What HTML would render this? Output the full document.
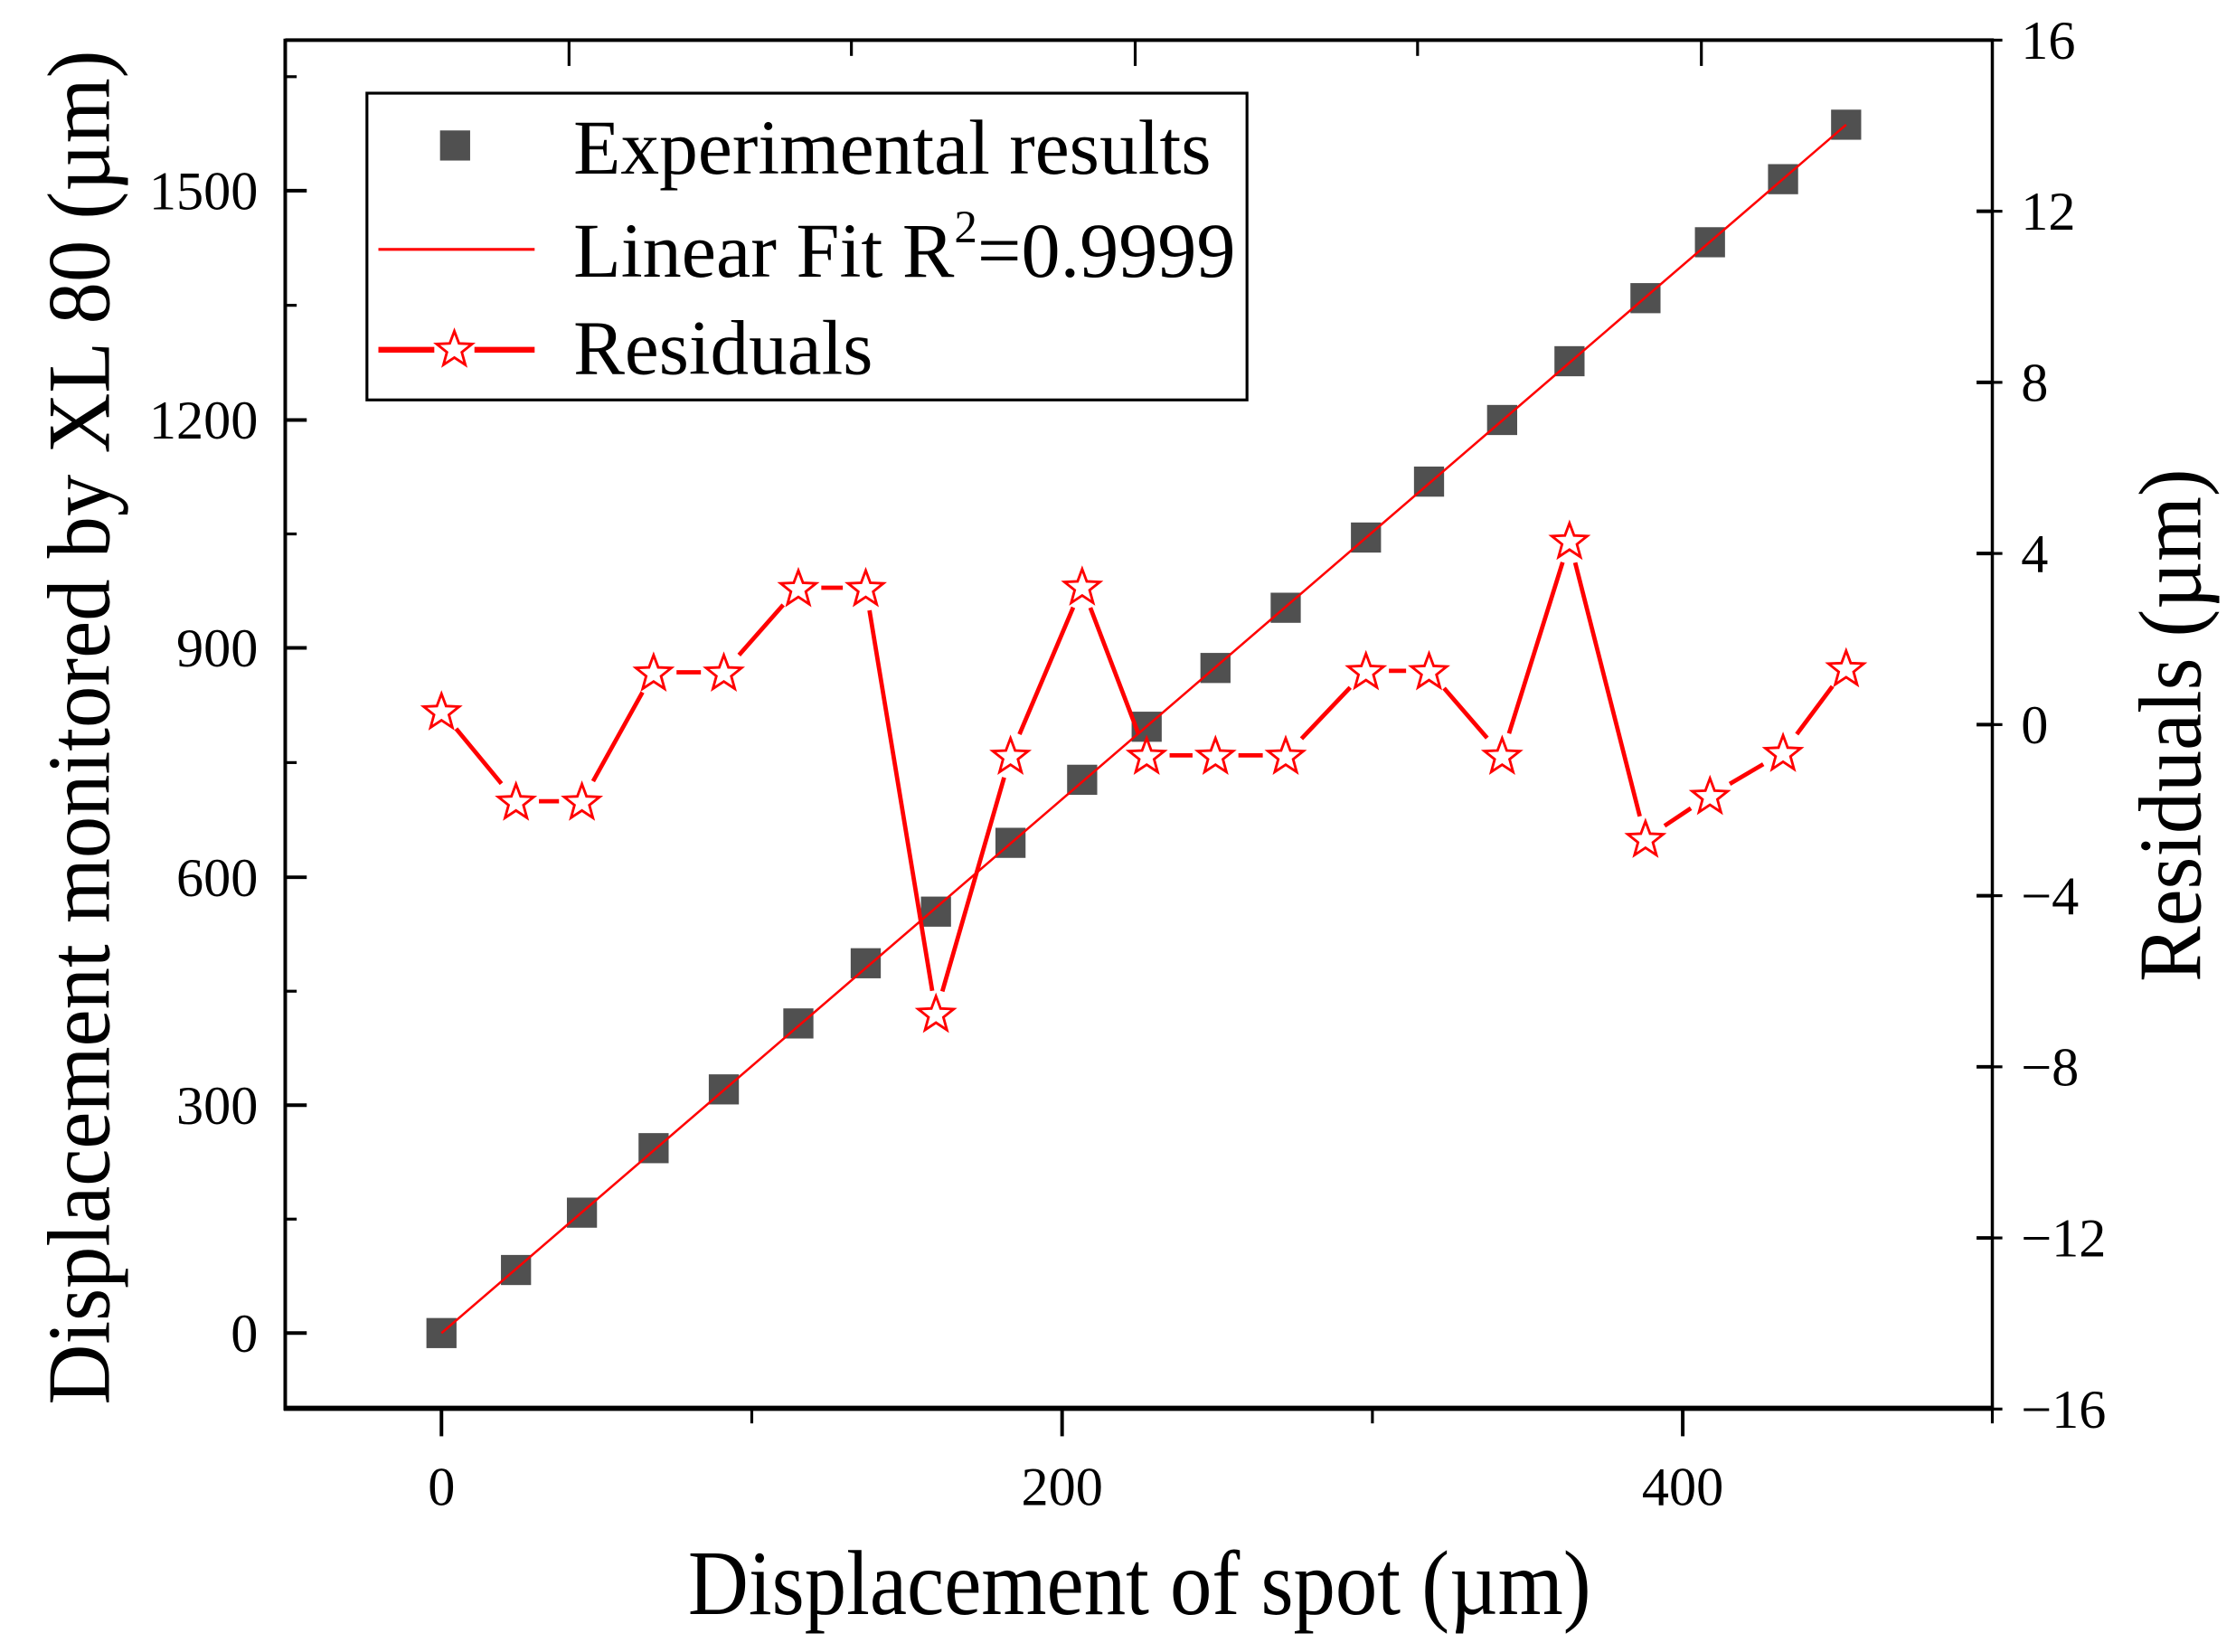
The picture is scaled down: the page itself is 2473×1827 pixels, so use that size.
<!DOCTYPE html>
<html><head><meta charset="utf-8"><style>
html,body{margin:0;padding:0;background:#fff;}
svg{display:block;}
text{font-family:"Liberation Serif",serif;fill:#000;}
</style></head><body>
<svg id="s" width="2473" height="1827" viewBox="0 0 1560 1152.5" preserveAspectRatio="none" xmlns="http://www.w3.org/2000/svg">
<g id="g"></g>
<line x1="199" y1="28" x2="1391" y2="28" stroke="#000" stroke-width="2.5"/>
<line x1="199" y1="27" x2="199" y2="984" stroke="#000" stroke-width="2.5"/>
<line x1="1390" y1="27" x2="1390" y2="984" stroke="#000" stroke-width="2.2"/>
<line x1="198" y1="982.5" x2="1391" y2="982.5" stroke="#000" stroke-width="3.6"/>
<rect x="256" y="65" width="614" height="214" fill="#fff" stroke="#000" stroke-width="2"/>
<rect x="307" y="91" width="21" height="21" fill="#505050"/>
<text x="400" y="121" font-size="54" textLength="445" lengthAdjust="spacingAndGlyphs">Experimental results</text>
<line x1="264" y1="174" x2="373" y2="174" stroke="#f00" stroke-width="2"/>
<text x="400" y="193" font-size="54" textLength="462" lengthAdjust="spacingAndGlyphs">Linear Fit R<tspan font-size="32" dy="-24">2</tspan><tspan dy="24">=0.9999</tspan></text>
<line x1="264" y1="244" x2="303" y2="244" stroke="#f00" stroke-width="4"/>
<line x1="331" y1="244" x2="373" y2="244" stroke="#f00" stroke-width="4"/>
<text x="400" y="261" font-size="54" textLength="209" lengthAdjust="spacingAndGlyphs">Residuals</text>
<text x="480" y="1126" font-size="64" textLength="630" lengthAdjust="spacingAndGlyphs">Displacement of spot (µm)</text>
<text transform="translate(76,980) rotate(-90)" font-size="62" textLength="945" lengthAdjust="spacingAndGlyphs">Displacement monitored by XL 80 (µm)</text>
<text transform="translate(1535,685) rotate(-90)" font-size="62" textLength="358" lengthAdjust="spacingAndGlyphs">Residuals (µm)</text>
</svg>
<script>
var NS="http://www.w3.org/2000/svg",g=document.getElementById('g'),s=document.getElementById('s');
function el(t,a,p){var e=document.createElementNS(NS,t);for(var k in a)e.setAttribute(k,a[k]);(p||s).appendChild(e);return e;}
var ly=[[0,930],[300,771],[600,612],[900,452],[1200,293],[1500,133]];
ly.forEach(function(d){el('line',{x1:199,y1:d[1],x2:214,y2:d[1],stroke:'#000','stroke-width':2.5});
var t=el('text',{x:180,y:d[1]+13,'font-size':38,'text-anchor':'end'});t.textContent=d[0];});
[850.5,691.5,532,372.5,213,53.5].forEach(function(y){el('line',{x1:199,y1:y,x2:207,y2:y,stroke:'#000','stroke-width':2});});
[[0,308],[200,741],[400,1174]].forEach(function(d){el('line',{x1:d[1],y1:983,x2:d[1],y2:1002,stroke:'#000','stroke-width':2.5});
var t=el('text',{x:d[1],y:1050,'font-size':38,'text-anchor':'middle'});t.textContent=d[0];});
[524.5,957.5,1390].forEach(function(x){el('line',{x1:x,y1:983,x2:x,y2:993,stroke:'#000','stroke-width':2});});
[[397,18],[594,11],[792,18],[989,11],[1187,18]].forEach(function(d){el('line',{x1:d[0],y1:28,x2:d[0],y2:28+d[1],stroke:'#000','stroke-width':2});});
for(var i=0;i<9;i++){var v=16-4*i,y=28+i*(955/8);
if(i>0&&i<8)el('line',{x1:1379,y1:y,x2:1390,y2:y,stroke:'#000','stroke-width':2.5});
el('line',{x1:1390,y1:y,x2:1397,y2:y,stroke:'#000','stroke-width':2});
var t=el('text',{x:1410,y:y+13,'font-size':38});t.textContent=(v<0?'\u2212':'')+Math.abs(v);}
var xs=[308,360,406,456,505,557,604,653,705,755,800,848,897,953,997,1048,1095,1148,1193,1244,1288];
var sq=[930,886,846,801,760,714,672,636,588,544,507,466,424,375,336,293,252,208,169,125,87];
var rs=[496,559,559,469,469,410,410,707,527,409,527,527,527,468,468,527,377,585,555,525,466];
for(var i=0;i<xs.length;i++)el('rect',{x:xs[i]-10.5,y:sq[i]-10.5,width:21,height:21,fill:'#505050'},g);
el('line',{x1:308,y1:930,x2:1288,y2:87,stroke:'#f00','stroke-width':1.6},g);
for(var i=0;i<xs.length-1;i++){var dx=xs[i+1]-xs[i],dy=rs[i+1]-rs[i],L=Math.sqrt(dx*dx+dy*dy),gp=16;
if(L>2*gp)el('line',{x1:xs[i]+dx*gp/L,y1:rs[i]+dy*gp/L,x2:xs[i+1]-dx*gp/L,y2:rs[i+1]-dy*gp/L,stroke:'#f00','stroke-width':3},g);}
function star(cx,cy,R){var r=R*0.42,p=[];for(var k=0;k<10;k++){var a=-Math.PI/2+k*Math.PI/5,rr=k%2?r:R;p.push((cx+rr*Math.cos(a)).toFixed(2)+','+(cy+rr*Math.sin(a)).toFixed(2));}
el('polygon',{points:p.join(' '),fill:'#fff',stroke:'#f00','stroke-width':1.8});}
for(var i=0;i<xs.length;i++)star(xs[i],rs[i]+1,13);
star(317,244,13);
</script>
</body></html>
